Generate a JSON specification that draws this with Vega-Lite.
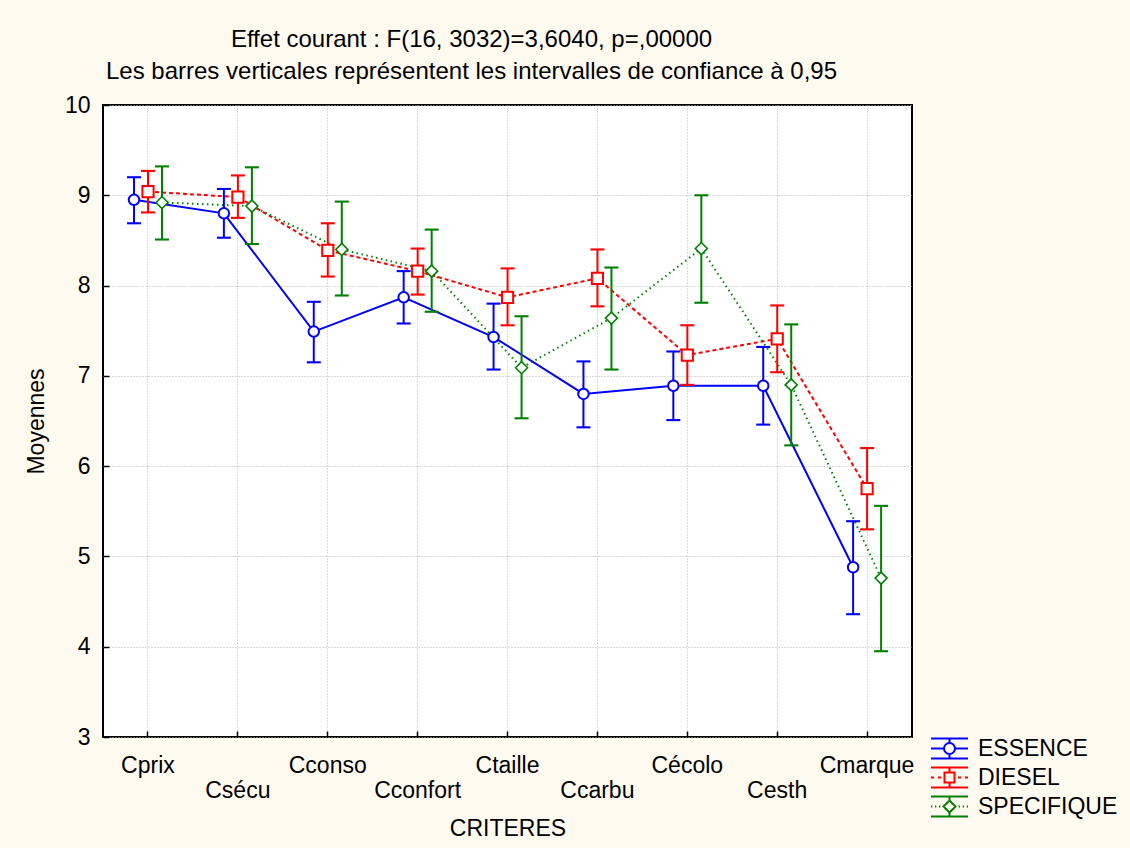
{
  "$schema": "https://vega.github.io/schema/vega-lite/v6.json",
  "width": 809,
  "height": 632,
  "autosize": "none",
  "padding": {"left": 103, "top": 105, "right": 218, "bottom": 111},
  "background": "#fffaf0",
  "config": {
    "view": {"fill": "white", "stroke": "black", "strokeWidth": 2},
    "font": "Liberation Sans"
  },
  "title": {
    "text": ["Effet courant : F(16, 3032)=3,6040, p=,00000", "Les barres verticales représentent les intervalles de confiance à 0,95"],
    "fontSize": 24,
    "fontWeight": "normal",
    "color": "black",
    "lineHeight": 32,
    "anchor": "middle",
    "dx": -36,
    "offset": 10
  },
  "data": {
    "values": [
      {"critere": "Cprix", "type": "ESSENCE", "mean": 8.95, "lo": 8.69, "hi": 9.20},
      {"critere": "Csécu", "type": "ESSENCE", "mean": 8.80, "lo": 8.53, "hi": 9.07},
      {"critere": "Cconso", "type": "ESSENCE", "mean": 7.49, "lo": 7.15, "hi": 7.82},
      {"critere": "Cconfort", "type": "ESSENCE", "mean": 7.87, "lo": 7.58, "hi": 8.16},
      {"critere": "Ctaille", "type": "ESSENCE", "mean": 7.43, "lo": 7.07, "hi": 7.80},
      {"critere": "Ccarbu", "type": "ESSENCE", "mean": 6.80, "lo": 6.43, "hi": 7.16},
      {"critere": "Cécolo", "type": "ESSENCE", "mean": 6.89, "lo": 6.51, "hi": 7.27},
      {"critere": "Cesth", "type": "ESSENCE", "mean": 6.89, "lo": 6.46, "hi": 7.32},
      {"critere": "Cmarque", "type": "ESSENCE", "mean": 4.88, "lo": 4.36, "hi": 5.39},
      {"critere": "Cprix", "type": "DIESEL", "mean": 9.04, "lo": 8.81, "hi": 9.27},
      {"critere": "Csécu", "type": "DIESEL", "mean": 8.98, "lo": 8.75, "hi": 9.22},
      {"critere": "Cconso", "type": "DIESEL", "mean": 8.39, "lo": 8.10, "hi": 8.69},
      {"critere": "Cconfort", "type": "DIESEL", "mean": 8.16, "lo": 7.90, "hi": 8.41},
      {"critere": "Ctaille", "type": "DIESEL", "mean": 7.87, "lo": 7.56, "hi": 8.19},
      {"critere": "Ccarbu", "type": "DIESEL", "mean": 8.08, "lo": 7.77, "hi": 8.40},
      {"critere": "Cécolo", "type": "DIESEL", "mean": 7.23, "lo": 6.90, "hi": 7.56},
      {"critere": "Cesth", "type": "DIESEL", "mean": 7.41, "lo": 7.04, "hi": 7.78},
      {"critere": "Cmarque", "type": "DIESEL", "mean": 5.75, "lo": 5.30, "hi": 6.20},
      {"critere": "Cprix", "type": "SPECIFIQUE", "mean": 8.92, "lo": 8.51, "hi": 9.32},
      {"critere": "Csécu", "type": "SPECIFIQUE", "mean": 8.88, "lo": 8.46, "hi": 9.31},
      {"critere": "Cconso", "type": "SPECIFIQUE", "mean": 8.40, "lo": 7.89, "hi": 8.93},
      {"critere": "Cconfort", "type": "SPECIFIQUE", "mean": 8.16, "lo": 7.71, "hi": 8.62},
      {"critere": "Ctaille", "type": "SPECIFIQUE", "mean": 7.09, "lo": 6.53, "hi": 7.66},
      {"critere": "Ccarbu", "type": "SPECIFIQUE", "mean": 7.64, "lo": 7.07, "hi": 8.20},
      {"critere": "Cécolo", "type": "SPECIFIQUE", "mean": 8.41, "lo": 7.81, "hi": 9.00},
      {"critere": "Cesth", "type": "SPECIFIQUE", "mean": 6.90, "lo": 6.23, "hi": 7.57},
      {"critere": "Cmarque", "type": "SPECIFIQUE", "mean": 4.76, "lo": 3.95, "hi": 5.56}
    ]
  },
  "encoding": {
    "x": {
      "field": "critere",
      "type": "nominal",
      "sort": null,
      "scale": {"type": "band", "domain": ["Cprix", "Csécu", "Cconso", "Cconfort", "Ctaille", "Ccarbu", "Cécolo", "Cesth", "Cmarque"], "paddingInner": 0, "paddingOuter": 0},
      "axis": {
        "title": "CRITERES",
        "titleFontSize": 23,
        "titleFontWeight": "normal",
        "titleColor": "black",
        "titlePadding": 15,
        "labelFontSize": 23,
        "labelColor": "black",
        "labelAngle": 0,
        "labelPadding": 23,
        "labelLineHeight": 25,
        "labelExpr": "indexof(['Cprix','Csécu','Cconso','Cconfort','Ctaille','Ccarbu','Cécolo','Cesth','Cmarque'], datum.value) % 2 === 1 ? ['', datum.value] : datum.value",
        "bandPosition": 0.5,
        "domain": false,
        "grid": true,
        "gridDash": [1, 2],
        "gridColor": "#b4b4b4",
        "tickSize": -6,
        "tickColor": "black",
        "tickWidth": 1.5
      }
    },
    "y": {
      "field": "mean",
      "type": "quantitative",
      "scale": {"domain": [3, 10], "nice": false, "zero": false},
      "axis": {
        "title": "Moyennes",
        "titleFontSize": 23,
        "titleFontWeight": "normal",
        "titleColor": "black",
        "titlePadding": 16,
        "values": [3, 4, 5, 6, 7, 8, 9, 10],
        "labelFontSize": 23,
        "labelColor": "black",
        "labelPadding": 19,
        "domain": false,
        "grid": true,
        "gridDash": [1, 2],
        "gridColor": "#b4b4b4",
        "tickSize": -6,
        "tickColor": "black",
        "tickWidth": 1.5
      }
    },
    "xOffset": {
      "field": "type",
      "type": "nominal",
      "scale": {"type": "point", "domain": ["ESSENCE", "DIESEL", "SPECIFIQUE"], "range": [31, 59], "padding": 0}
    },
    "color": {
      "field": "type",
      "type": "nominal",
      "scale": {"domain": ["ESSENCE", "DIESEL", "SPECIFIQUE"], "range": ["#0000ff", "#ff0000", "#008000"]},
      "legend": {
        "orient": "none", "legendX": 835, "legendY": 632, "title": null, "padding": 0,
        "labelFontSize": 23, "labelColor": "black", "symbolSize": 400, "symbolStrokeWidth": 2,
        "symbolOpacity": 1, "symbolFillColor": "transparent", "rowPadding": 0, "labelOffset": 17
      }
    }
  },
  "layer": [
    {
      "mark": {"type": "point", "opacity": 0, "filled": false},
      "encoding": {
        "shape": {
          "field": "type",
          "type": "nominal",
          "scale": {"domain": ["ESSENCE", "DIESEL", "SPECIFIQUE"], "range": [
            "M-1.85,-1H1.85M-1.85,1H1.85M0,-1V-0.55M0,0.55V1M-1.85,0H-0.55M0.55,0H1.85M0.55,0A0.55,0.55,0,1,1,-0.55,0A0.55,0.55,0,1,1,0.55,0",
            "M-1.85,-1H1.85M-1.85,1H1.85M0,-1V-0.5M0,0.5V1M-1.85,0H-1.55M-1.15,0H-0.85M0.85,0H1.15M1.55,0H1.85M-0.5,-0.5H0.5V0.5H-0.5Z",
            "M-1.85,-1H1.85M-1.85,1H1.85M0,-1V-0.6M0,0.6V1M-1.85,0H-1.72M-1.45,0H-1.32M-1.05,0H-0.92M0.92,0H1.05M1.32,0H1.45M1.72,0H1.85M0,-0.6L0.6,0L0,0.6L-0.6,0Z"
          ]},
          "legend": {
            "orient": "none", "legendX": 835, "legendY": 632, "title": null, "padding": 0,
            "labelFontSize": 23, "labelColor": "black", "symbolSize": 400, "symbolStrokeWidth": 2,
            "symbolOpacity": 1, "symbolFillColor": "transparent", "rowPadding": 0, "labelOffset": 17
          }
        }
      }
    },
    {
      "transform": [{"filter": "datum.type === 'ESSENCE'"}],
      "mark": {"type": "line", "strokeWidth": 2}
    },
    {
      "transform": [{"filter": "datum.type === 'DIESEL'"}],
      "mark": {"type": "line", "strokeWidth": 2, "strokeDash": [4, 3]}
    },
    {
      "transform": [{"filter": "datum.type === 'SPECIFIQUE'"}],
      "mark": {"type": "line", "strokeWidth": 2, "strokeDash": [1.5, 3.5]}
    },
    {
      "mark": {"type": "rule", "strokeWidth": 2},
      "encoding": {
        "y": {"field": "lo", "type": "quantitative"},
        "y2": {"field": "hi"}
      }
    },
    {
      "mark": {"type": "tick", "size": 12, "thickness": 0.1, "filled": false, "strokeWidth": 2, "opacity": 1},
      "encoding": {"y": {"field": "lo", "type": "quantitative"}}
    },
    {
      "mark": {"type": "tick", "size": 12, "thickness": 0.1, "filled": false, "strokeWidth": 2, "opacity": 1},
      "encoding": {"y": {"field": "hi", "type": "quantitative"}}
    },
    {
      "transform": [{"filter": "datum.type === 'ESSENCE'"}],
      "mark": {"type": "point", "shape": "circle", "filled": false, "fill": "white", "strokeWidth": 2, "size": 110, "opacity": 1}
    },
    {
      "transform": [{"filter": "datum.type === 'DIESEL'"}],
      "mark": {"type": "point", "shape": "square", "filled": false, "fill": "white", "strokeWidth": 2, "size": 125, "opacity": 1}
    },
    {
      "transform": [{"filter": "datum.type === 'SPECIFIQUE'"}],
      "mark": {"type": "point", "shape": "diamond", "filled": false, "fill": "white", "strokeWidth": 1.6, "size": 144, "opacity": 1}
    }
  ]
}
